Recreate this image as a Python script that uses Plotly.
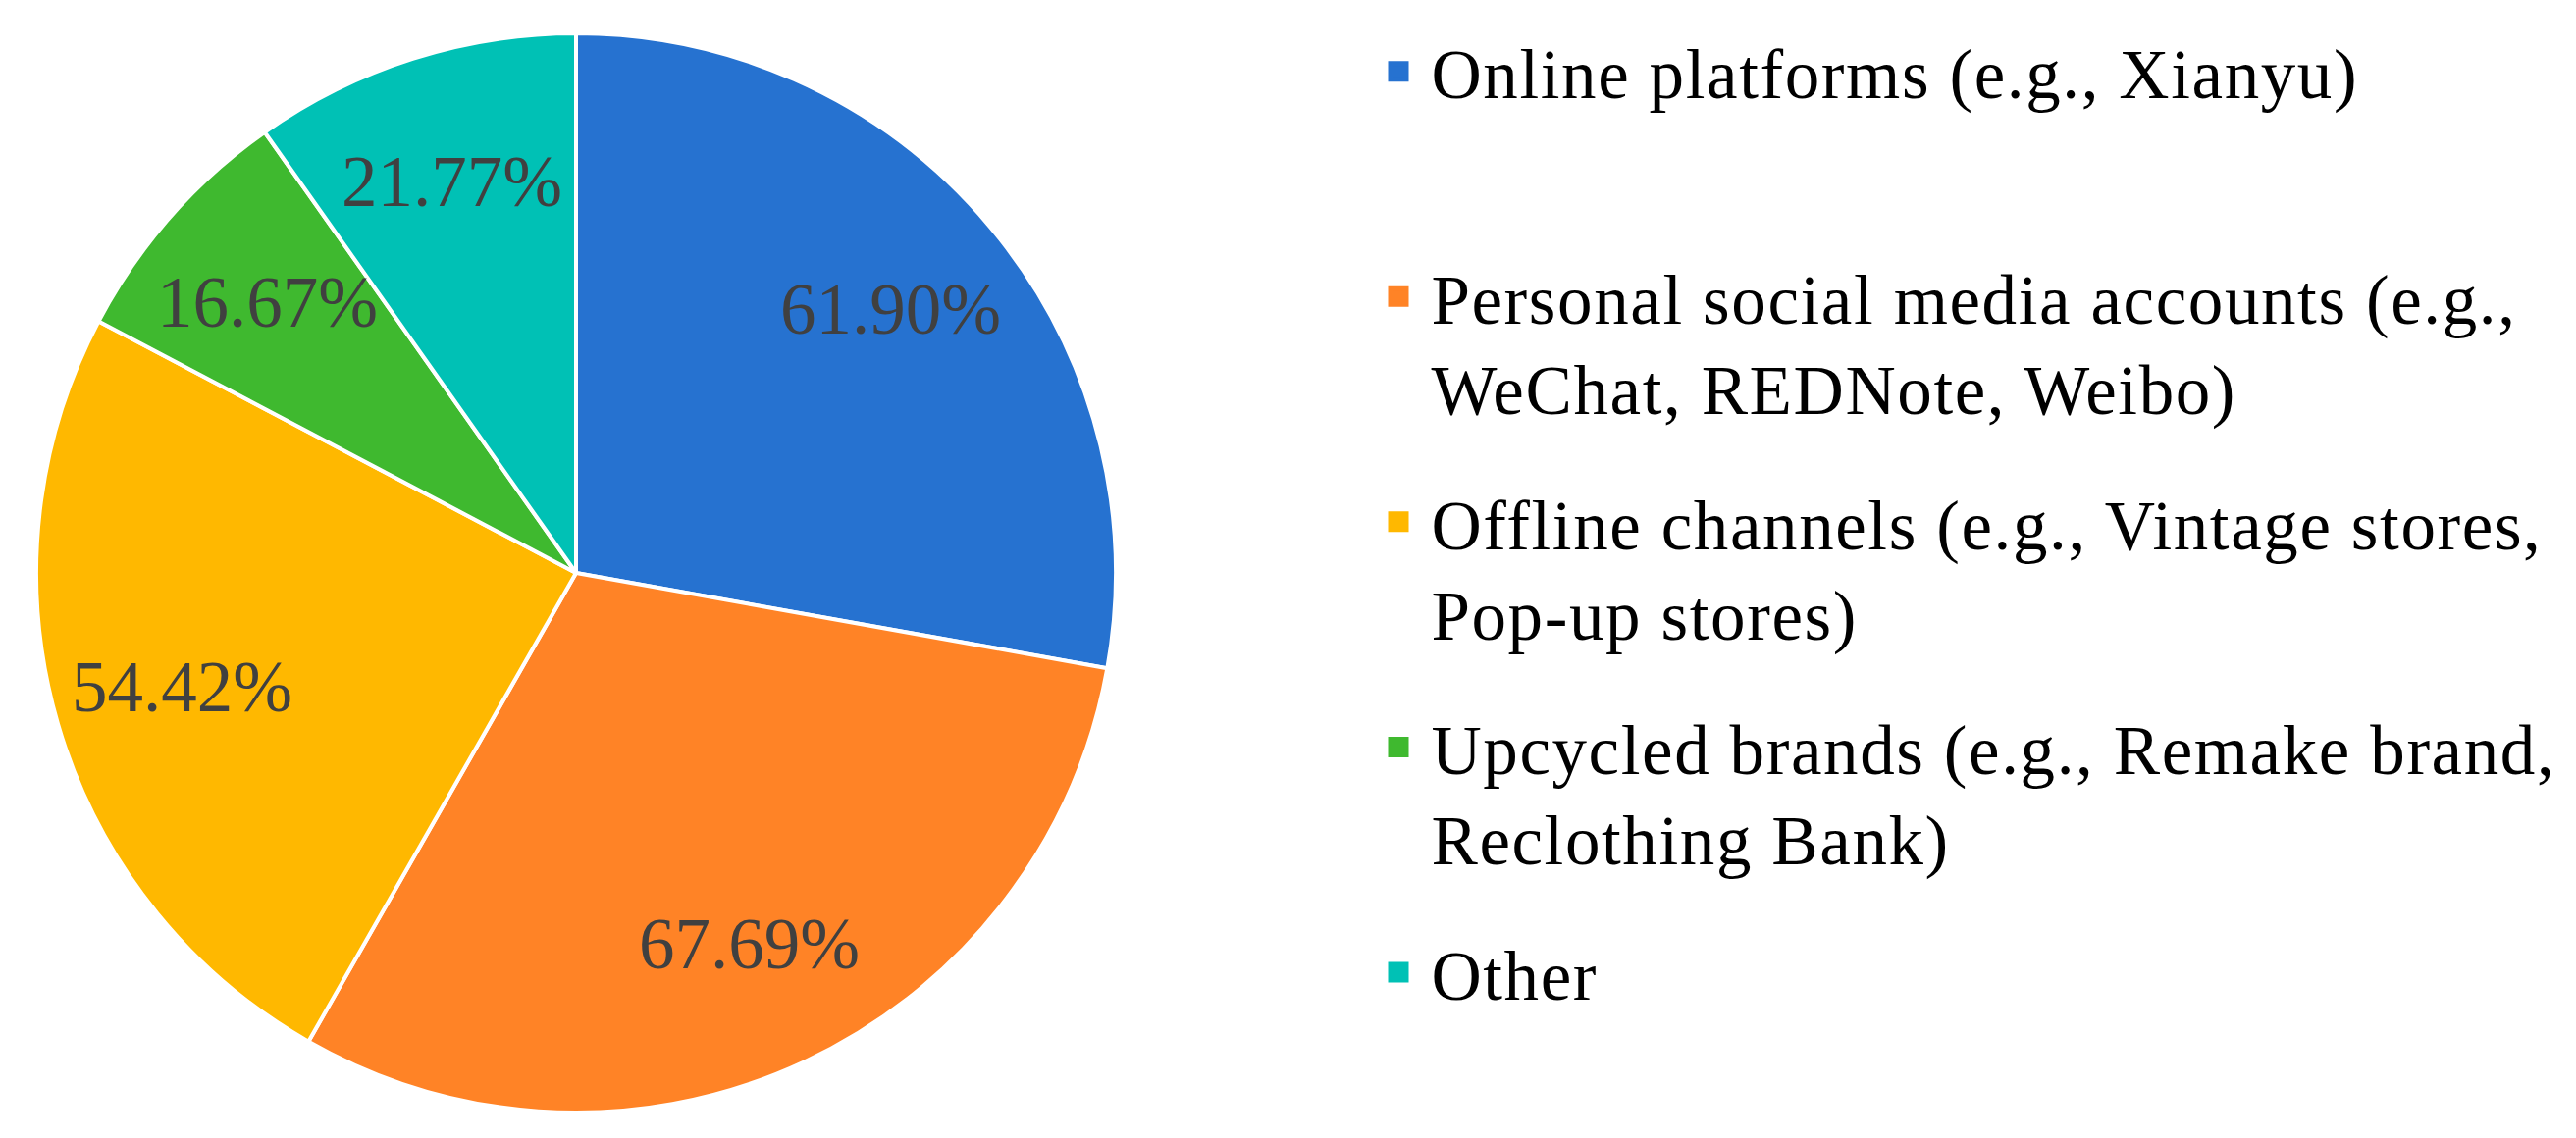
import math
import plotly.graph_objects as go

categories = [
    "Online platforms (e.g., Xianyu)",
    "Personal social media accounts (e.g.,<br>WeChat, REDNote, Weibo)",
    "Offline channels (e.g., Vintage stores,<br>Pop-up stores)",
    "Upcycled brands (e.g., Remake brand,<br>Reclothing Bank)",
    "Other",
]
values = [61.90, 67.69, 54.42, 16.67, 21.77]
value_labels = ["61.90%", "67.69%", "54.42%", "16.67%", "21.77%"]
colors = ["#2672D0", "#FF8326", "#FFB800", "#3FB92F", "#00C1B5"]

W, H = 2625, 1160
# pie placement (pixels)
CX, CY, R = 579, 576, 550
dom_x = [(CX - R) / W, (CX + R) / W]
dom_y = [1 - (CY + R) / H, 1 - (CY - R) / H]

fig = go.Figure()
fig.add_trace(go.Pie(
    labels=categories,
    values=values,
    text=value_labels,
    textinfo="none",
    sort=False,
    direction="clockwise",
    rotation=0,
    marker=dict(colors=colors, line=dict(color="white", width=4)),
    domain=dict(x=dom_x, y=dom_y),
    showlegend=False,
    hoverinfo="label+text",
))

# value labels placed at each slice's mid angle
total = sum(values)
cum = 0.0
for v, t in zip(values, value_labels):
    mid = (cum + v / 2) / total * 2 * math.pi
    cum += v
    d = 0.76 * R
    px = CX + d * math.sin(mid)
    py = CY - d * math.cos(mid)
    fig.add_annotation(
        x=px / W, y=1 - py / H, xref="paper", yref="paper",
        text=t, showarrow=False, xanchor="center", yanchor="middle",
        font=dict(family="Liberation Serif", size=73, color="#404040"),
    )


def legend_name(lab):
    lines = lab.split("<br>")
    if len(lines) == 1:
        lines.append("&nbsp;")
    return "<br>".join(
        '<span style="letter-spacing:1.6px">\u2006' + ln + "</span>" for ln in lines
    )


# legend entries (one group each so the spacing can be controlled)
for i, (lab, col) in enumerate(zip(categories, colors)):
    fig.add_trace(go.Scatter(
        x=[None], y=[None], mode="markers",
        marker=dict(symbol="square", size=16, color=col,
                    line=dict(color=col, width=5)),
        name=legend_name(lab), legendgroup=f"g{i}", showlegend=True,
        hoverinfo="skip",
    ))

fig.update_layout(
    width=W, height=H,
    margin=dict(l=0, r=0, t=0, b=0),
    paper_bgcolor="white", plot_bgcolor="white",
    xaxis=dict(visible=False), yaxis=dict(visible=False),
    legend=dict(
        x=1397 / W, y=1 - 12 / H, xanchor="left", yanchor="top",
        font=dict(family="Liberation Serif", size=71, color="black"),
        valign="top", tracegroupgap=42,
        bgcolor="rgba(0,0,0,0)",
    ),
)
fig.write_html("out.html")
